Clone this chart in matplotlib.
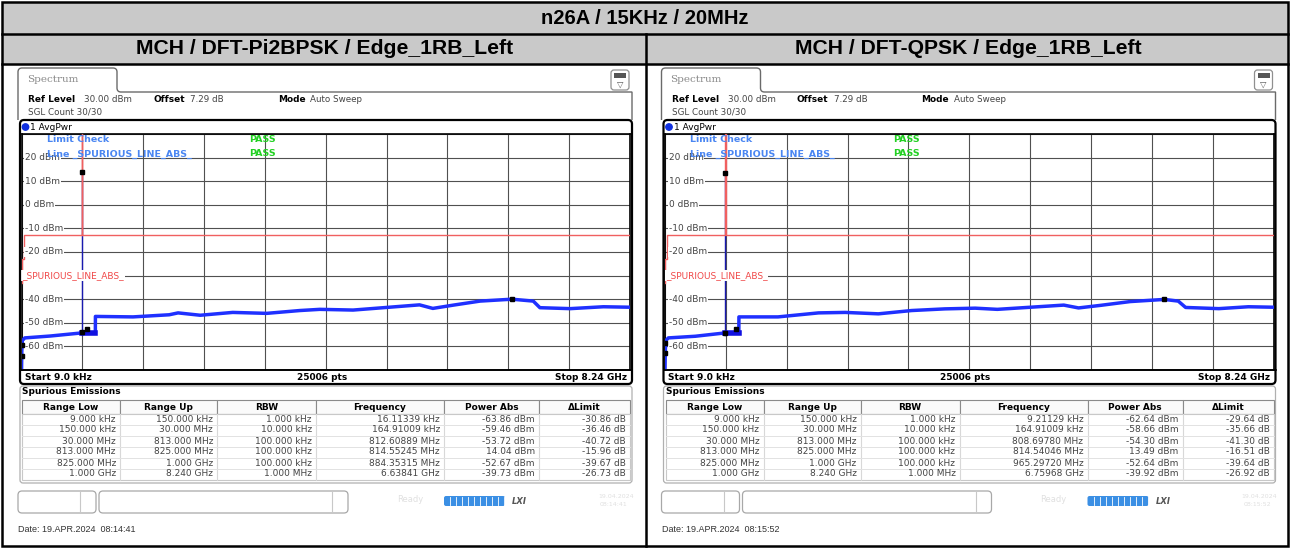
import matplotlib
matplotlib.use("Agg")
import numpy as np
import matplotlib.pyplot as plt
import matplotlib.transforms as mtransforms
from matplotlib.patches import FancyBboxPatch, Rectangle, Circle, PathPatch
from matplotlib.lines import Line2D
from matplotlib.path import Path

W, H = 1290, 548

title = "n26A / 15KHz / 20MHz"
subtitles = ["MCH / DFT-Pi2BPSK / Edge_1RB_Left", "MCH / DFT-QPSK / Edge_1RB_Left"]
dates = ["Date: 19.APR.2024  08:14:41", "Date: 19.APR.2024  08:15:52"]

left_freq = [0.000009, 0.004, 0.012, 0.045, 0.39, 0.812,
             1.0, 1.001, 1.51, 2.0, 2.12, 2.42, 2.86, 3.32, 3.77, 4.04,
             4.49, 4.94, 5.39, 5.57, 5.85, 6.21, 6.64, 6.93, 7.02, 7.43, 7.88, 8.24]
left_level = [-70.0, -62.0, -57.5, -56.4, -55.6, -54.3,
              -54.3, -47.3, -47.5, -46.6, -45.8, -46.8, -45.6, -46.0, -44.8, -44.3,
              -44.6, -43.5, -42.4, -43.9, -42.5, -40.8, -40.0, -40.8, -43.6, -44.0, -43.2, -43.4]

right_freq = [0.000009, 0.004, 0.012, 0.045, 0.41, 0.81,
              1.0, 1.001, 1.53, 2.08, 2.44, 2.89, 3.34, 3.79, 4.2,
              4.5, 4.95, 5.4, 5.6, 5.9, 6.3, 6.76, 6.95, 7.05, 7.5, 7.9, 8.24]
right_level = [-70.0, -62.0, -57.5, -56.4, -55.7, -54.3,
               -54.3, -47.5, -47.5, -45.8, -45.6, -46.2, -44.8, -44.1, -43.8,
               -44.3, -43.4, -42.5, -43.7, -42.6, -41.0, -40.1, -40.8, -43.5, -44.0, -43.2, -43.4]

# limit line of the spurious emission mask
limit_freq = [0.000009, 0.00015, 0.00015, 0.03, 0.03, 0.813, 0.813, 0.825, 0.825, 8.24]
limit_level = [-33, -33, -23, -23, -13, -13, 30, 30, -13, -13]

# spurious emission table
range_low = ["9.000 kHz", "150.000 kHz", "30.000 MHz", "813.000 MHz", "825.000 MHz", "1.000 GHz"]
range_up = ["150.000 kHz", "30.000 MHz", "813.000 MHz", "825.000 MHz", "1.000 GHz", "8.240 GHz"]
rbw = ["1.000 kHz", "10.000 kHz", "100.000 kHz", "100.000 kHz", "100.000 kHz", "1.000 MHz"]
left_peak = ["16.11339 kHz", "164.91009 kHz", "812.60889 MHz", "814.55245 MHz", "884.35315 MHz", "6.63841 GHz"]
left_power = [-63.86, -59.46, -53.72, 14.04, -52.67, -39.73]
left_delta = [-30.86, -36.46, -40.72, -15.96, -39.67, -26.73]
right_peak = ["9.21129 kHz", "164.91009 kHz", "808.69780 MHz", "814.54046 MHz", "965.29720 MHz", "6.75968 GHz"]
right_power = [-62.64, -58.66, -54.30, 13.49, -52.64, -39.92]
right_delta = [-29.64, -35.66, -41.30, -16.51, -39.64, -26.92]

UNITS = {"kHz": 1e-6, "MHz": 1e-3, "GHz": 1.0}


def to_ghz(s):
    v, u = s.split()
    return float(v) * UNITS[u]


fig = plt.figure(figsize=(W / 100, H / 100), dpi=100)
fig.patch.set_facecolor("white")
# pixel coords, origin top left
px = mtransforms.Affine2D().scale(1 / W, -1 / H).translate(0, 1) + fig.transFigure

SANS = "DejaVu Sans"
ARIAL = "Liberation Sans"


def ptext(x, y, s, **kw):
    kw.setdefault("family", SANS)
    kw.setdefault("va", "center")
    return fig.text(x, y, s, transform=px, **kw)


def prect(x0, y0, x1, y1, **kw):
    fig.add_artist(Rectangle((x0, y0), x1 - x0, y1 - y0, transform=px, **kw))


def pround(x0, y0, x1, y1, r, **kw):
    fig.add_artist(FancyBboxPatch((x0, y0), x1 - x0, y1 - y0,
                                  boxstyle=f"round,pad=0,rounding_size={r}",
                                  transform=px, **kw))


def pline(xs, ys, **kw):
    fig.add_artist(Line2D(xs, ys, transform=px, **kw))


# outer table
prect(2, 2, 1288, 34, facecolor="#c9c9c9", edgecolor="none", zorder=0)
prect(2, 34, 1288, 64, facecolor="#c9c9c9", edgecolor="none", zorder=0)
prect(2, 2, 1288, 546, facecolor="none", edgecolor="black", lw=1.8, zorder=5)
pline([2, 1288], [34, 34], color="black", lw=1.8, zorder=5)
pline([2, 1288], [64, 64], color="black", lw=1.8, zorder=5)
pline([646, 646], [34, 546], color="black", lw=1.8, zorder=5)
ptext(645, 18, title, family=ARIAL, weight="bold", fontsize=14.5, ha="center")


def draw_panel(dx, subtitle, freq, level, peaks, power, delta, date):
    ptext(325 + dx, 49, subtitle, family=ARIAL, weight="bold", fontsize=15.2, ha="center")

    # tab outline
    verts = [(18 + dx, 120), (18 + dx, 72), (18 + dx, 68), (22 + dx, 68),
             (113 + dx, 68), (117 + dx, 68), (117 + dx, 72), (117 + dx, 88),
             (117 + dx, 92), (121 + dx, 92), (632 + dx, 92), (632 + dx, 120)]
    codes = [Path.MOVETO, Path.LINETO, Path.CURVE3, Path.CURVE3, Path.LINETO,
             Path.CURVE3, Path.CURVE3, Path.LINETO, Path.CURVE3, Path.CURVE3,
             Path.LINETO, Path.LINETO]
    fig.add_artist(PathPatch(Path(verts, codes), facecolor="none", edgecolor="#6a6a6a",
                             lw=1.0, transform=px, zorder=2))
    ptext(27 + dx, 80, "Spectrum", family="DejaVu Serif", color="#8a8a8a", fontsize=7.5)

    # menu icon
    pround(611 + dx, 70, 629 + dx, 90, 3, facecolor="white", edgecolor="#909090", lw=0.9, zorder=2)
    prect(614 + dx, 73, 626 + dx, 78, facecolor="#555555", edgecolor="none", zorder=3)
    ptext(620 + dx, 84, "\u25bd", color="#555555", fontsize=6, ha="center")

    ptext(28 + dx, 100, "Ref Level", weight="bold", fontsize=6.5)
    ptext(84 + dx, 100, "30.00 dBm", fontsize=6.3, color="#444444")
    ptext(153 + dx, 100, "Offset", weight="bold", fontsize=6.5)
    ptext(190 + dx, 100, "7.29 dB", fontsize=6.3, color="#444444")
    ptext(278 + dx, 100, "Mode", weight="bold", fontsize=6.5)
    ptext(310 + dx, 100, "Auto Sweep", fontsize=6.3, color="#444444")
    ptext(28 + dx, 112, "SGL Count 30/30", fontsize=6.3, color="#444444")

    # graph panel
    pround(20 + dx, 120, 632 + dx, 384, 4, facecolor="none", edgecolor="black", lw=1.6, zorder=4)
    fig.add_artist(Circle((25.5 + dx, 127), 3.2, transform=px, color="#1030e0", zorder=3))
    ptext(30 + dx, 127, "1 AvgPwr", fontsize=6.5)

    ax = fig.add_axes([(21.5 + dx) / W, 1 - 370 / H, 608.5 / W, 236 / H])
    x0, x1 = 0.000009, 8.24
    ax.set_xlim(x0, x1)
    ax.set_ylim(-70, 30)
    ax.set_xticks(np.linspace(x0, x1, 11))
    ax.set_yticks(np.arange(-70, 31, 10))
    ax.tick_params(length=0, labelbottom=False, labelleft=False)
    ax.grid(True, color="#505050", lw=0.8)
    for s in ax.spines.values():
        s.set_color("black")
        s.set_linewidth(1.2)

    ax.plot(freq, level, color="#1f30ff", lw=2.5, zorder=4, solid_joinstyle="round")
    # busy section 825 MHz - 1 GHz
    ax.plot([0.813, 1.0], [-54.4, -54.4], color="#1010e0", lw=4.0, zorder=4)
    tx = to_ghz(peaks[3])
    ax.plot([tx, tx], [-55, power[3]], color="#1a1ab0", lw=1.0, zorder=4)
    ax.plot(limit_freq, limit_level, color="#f06060", lw=1.0, zorder=4.5)
    ax.plot([to_ghz(p) for p in peaks], power, "s", color="black", ms=3, zorder=6)

    ytr = ax.get_yaxis_transform()
    for v in range(20, -61, -10):
        if v == -30:
            continue
        ax.text(0.006, v, f"{v} dBm", transform=ytr, fontsize=6.5, family=SANS, va="center",
                color="#444444", zorder=5,
                bbox=dict(boxstyle="square,pad=0.1", facecolor="white", edgecolor="none"))
    ax.text(0.001, -30, "_SPURIOUS_LINE_ABS_", transform=ytr, fontsize=6.5, family=SANS,
            va="center", color="#f04848", zorder=5,
            bbox=dict(boxstyle="square,pad=0.1", facecolor="white", edgecolor="none"))
    ax.text(25.5 / 608.5, 1 - 6 / 236, "Limit Check", transform=ax.transAxes, fontsize=6.8,
            weight="bold", color="#4a86f2", family=SANS, va="center", zorder=6)
    ax.text(25.5 / 608.5, 1 - 20 / 236, "Line _SPURIOUS_LINE_ABS_", transform=ax.transAxes,
            fontsize=6.8, weight="bold", color="#4a86f2", family=SANS, va="center", zorder=6)
    for yy in (6, 20):
        ax.text(228 / 608.5, 1 - yy / 236, "PASS", transform=ax.transAxes, fontsize=6.8,
                weight="bold", color="#22d022", family=SANS, va="center", zorder=6)

    pline([20 + dx, 632 + dx], [370, 370], color="black", lw=1.2, zorder=4)
    ptext(25 + dx, 377, "Start 9.0 kHz", weight="bold", fontsize=6.5)
    ptext(322 + dx, 377, "25006 pts", weight="bold", fontsize=6.5, ha="center")
    ptext(627 + dx, 377, "Stop 8.24 GHz", weight="bold", fontsize=6.5, ha="right")

    # spurious table
    pround(20 + dx, 386, 632 + dx, 483, 3, facecolor="none", edgecolor="#b0b0b0", lw=0.9, zorder=2)
    ptext(22 + dx, 392, "Spurious Emissions", weight="bold", fontsize=6.5)
    cols = [22, 120, 217, 316, 444, 539, 630]
    heads = ["Range Low", "Range Up", "RBW", "Frequency", "Power Abs", "\u0394Limit"]
    for i, hd in enumerate(heads):
        prect(cols[i] + dx, 400, cols[i + 1] + dx, 413.5, facecolor="#fafafa",
              edgecolor="#8a8a8a", lw=0.8, zorder=2)
        ptext((cols[i] + cols[i + 1]) / 2 + dx, 407, hd, weight="bold", fontsize=6.5, ha="center")
    prect(cols[0] + dx, 413.5, cols[-1] + dx, 480, facecolor="white", edgecolor="#c8c8c8",
          lw=0.8, zorder=2)
    for c in cols[1:-1]:
        pline([c + dx, c + dx], [413.5, 480], color="#d8d8d8", lw=0.8, zorder=2)
    for r in range(6):
        y = 419 + r * 11
        if r > 0:
            pline([cols[0] + dx, cols[-1] + dx], [y - 5.5, y - 5.5], color="#e2e2e2", lw=0.7, zorder=2)
        cells = [range_low[r], range_up[r], rbw[r], peaks[r],
                 f"{power[r]:.2f} dBm", f"{delta[r]:.2f} dB"]
        for i, c in enumerate(cells):
            ptext(cols[i + 1] - 4 + dx, y, c, fontsize=6.5, ha="right", color="#444444", zorder=3)

    # status bar
    pround(18 + dx, 491, 96 + dx, 513, 4, facecolor="white", edgecolor="#a8a8a8", lw=0.9, zorder=2)
    pline([80 + dx, 80 + dx], [492, 512], color="#c8c8c8", lw=0.8, zorder=3)
    pround(99 + dx, 491, 348 + dx, 513, 4, facecolor="white", edgecolor="#a8a8a8", lw=0.9, zorder=2)
    pline([332 + dx, 332 + dx], [492, 512], color="#c8c8c8", lw=0.8, zorder=3)
    ptext(397 + dx, 500, "Ready", fontsize=6, color="#e0e0e0")
    pround(444 + dx, 496, 505 + dx, 506, 2, facecolor="#3b8fe4", edgecolor="none", zorder=2)
    for sx in np.arange(450, 505, 6):
        pline([sx + dx, sx + dx], [497, 505], color="white", lw=0.6, zorder=3)
    ptext(512 + dx, 501, "LXI", fontsize=6, color="#555555", weight="bold", style="italic")
    ptext(598 + dx, 496, date[6:17].replace("APR", "04"), fontsize=4.5, color="#e0e0e0")
    ptext(600 + dx, 505, date[-8:], fontsize=4.5, color="#e0e0e0")

    ptext(18 + dx, 530, date, family=ARIAL, fontsize=6.5, color="#333333")


draw_panel(0, subtitles[0], left_freq, left_level, left_peak, left_power, left_delta, dates[0])
draw_panel(643.5, subtitles[1], right_freq, right_level, right_peak, right_power, right_delta, dates[1])

fig.savefig("out.png", dpi=100)
